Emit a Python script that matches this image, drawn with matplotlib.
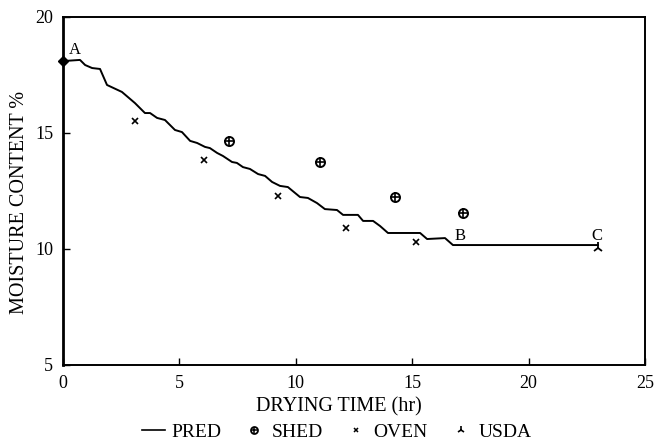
import numpy as np
import matplotlib.pyplot as plt
from matplotlib.lines import Line2D

plt.rcParams['font.family'] = ['Liberation Serif', 'DejaVu Serif']

# predicted curve (stepped)
pred_t = [0, 0.73, 0.95, 1.25, 1.59, 1.89, 2.53, 3.09, 3.52, 3.74, 4.04, 4.38,
          4.81, 5.11, 5.46, 5.76, 6.10, 6.31, 6.62, 6.87, 7.26, 7.47, 7.73,
          8.03, 8.38, 8.68, 8.98, 9.32, 9.66, 10.18, 10.52, 10.91, 11.25,
          11.77, 12.03, 12.67, 12.89, 13.32, 13.62, 13.96, 15.34, 15.64,
          16.41, 16.75, 22.98]
pred_mc = [18.10, 18.15, 17.93, 17.80, 17.76, 17.07, 16.77, 16.29, 15.86,
           15.86, 15.65, 15.56, 15.13, 15.04, 14.66, 14.57, 14.40, 14.35,
           14.14, 14.01, 13.75, 13.71, 13.53, 13.45, 13.23, 13.15, 12.89,
           12.72, 12.67, 12.24, 12.20, 11.98, 11.72, 11.68, 11.47, 11.47,
           11.21, 11.21, 10.99, 10.69, 10.69, 10.43, 10.47, 10.17, 10.17]

shed_t = [7.13, 11.04, 14.26, 17.18]
shed_mc = [14.66, 13.75, 12.24, 11.55]
start_t = [0]
start_mc = [18.1]

oven_t = [3.09, 6.06, 9.24, 12.16, 15.16]
oven_mc = [15.5, 13.84, 12.28, 10.9, 10.3]

usda_t = [22.98]
usda_mc = [10.04]

fig = plt.figure(figsize=(6.55, 4.45), dpi=100)
ax = fig.add_axes([0.0962, 0.1798, 0.8885, 0.782])

ax.plot(pred_t, pred_mc, color='black', lw=1.4)
# shed: circle with a cross in it
ax.plot(shed_t, shed_mc, ls='none', marker='o', ms=6.5, mfc='white',
        mec='black', mew=1.4)
ax.plot(shed_t, shed_mc, ls='none', marker='+', ms=6.5, mew=1.2, color='black')
ax.plot(start_t, start_mc, ls='none', marker='D', ms=5, color='black',
        clip_on=False)
ax.plot(oven_t, oven_mc, ls='none', marker='x', ms=4, mew=1.2, color='black')
ax.plot(usda_t, usda_mc, ls='none', marker='2', ms=8, mew=1.3, color='black')

ax.text(0.25, 18.25, 'A', fontsize=12, ha='left', va='bottom')
ax.text(16.8, 10.2, 'B', fontsize=12, ha='left', va='bottom')
ax.text(22.7, 10.2, 'C', fontsize=12, ha='left', va='bottom')

ax.set_xlim(0, 25)
ax.set_ylim(5, 20)
ax.set_xticks([0, 5, 10, 15, 20, 25])
ax.set_yticks([5, 10, 15, 20])
ax.tick_params(direction='in', length=5, width=1, labelsize=13, pad=7)
for s in ax.spines.values():
    s.set_linewidth(1.4)
ax.spines['left'].set_linewidth(2)

ax.set_xlabel('DRYING TIME (hr)', fontsize=14.5)
ax.xaxis.set_label_coords(0.474, -0.093)
ax.set_ylabel('MOISTURE CONTENT %', fontsize=14.5, va='center')
ax.yaxis.set_label_coords(-0.074, 0.468)

shed_h = (Line2D([], [], ls='none', marker='o', ms=5, mfc='white',
                 mec='black', mew=1.3),
          Line2D([], [], ls='none', marker='+', ms=5, mew=1.1, color='black'))
handles = [
    Line2D([], [], color='black', lw=1.2),
    shed_h,
    Line2D([], [], ls='none', marker='x', ms=3.5, mew=1.1, color='black'),
    Line2D([], [], ls='none', marker='2', ms=6, mew=1.2, color='black'),
]
fig.legend(handles, ['PRED', 'SHED', 'OVEN', 'USDA'], loc='center',
           bbox_to_anchor=(0.514, 0.029), ncol=4, frameon=False, fontsize=14,
           handlelength=1.2, handletextpad=0.3, columnspacing=1.1)

fig.savefig('out.png', dpi=100)
